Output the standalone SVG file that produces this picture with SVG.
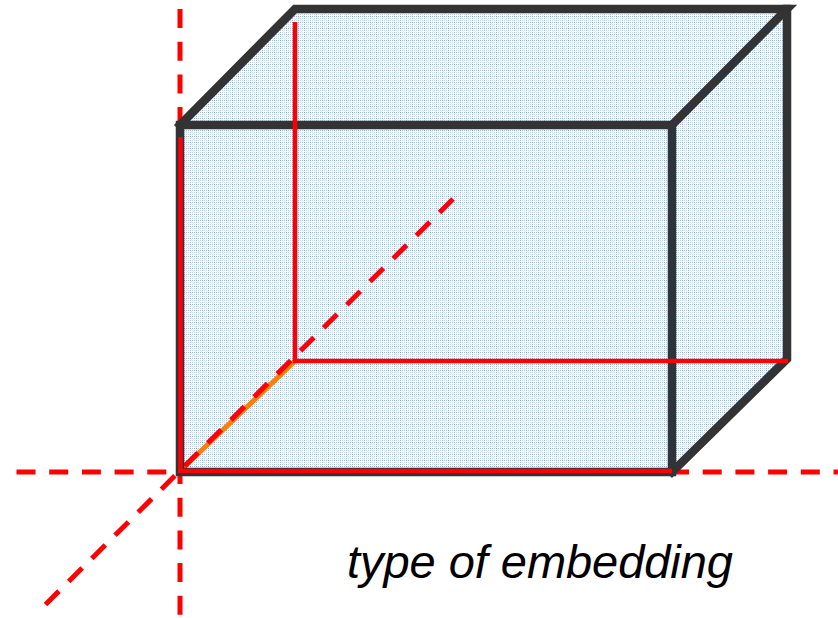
<svg xmlns="http://www.w3.org/2000/svg" width="838" height="618" viewBox="0 0 838 618">
  <defs>
    <pattern id="dots" x="0" y="0" width="6" height="6" patternUnits="userSpaceOnUse">
      <rect width="6" height="6" fill="#fbfdff"/>
      <rect x="0" y="0" width="1" height="1" fill="#c2d9ef"/>
      <rect x="2" y="0" width="1" height="1" fill="#c2d9ef"/>
      <rect x="4" y="0" width="1" height="1" fill="#9bc0e4"/>
      <rect x="0" y="2" width="1" height="1" fill="#c2d9ef"/>
      <rect x="2" y="2" width="1" height="1" fill="#c2d9ef"/>
      <rect x="4" y="2" width="1" height="1" fill="#9bc0e4"/>
      <rect x="0" y="4" width="1" height="1" fill="#9bc0e4"/>
      <rect x="2" y="4" width="1" height="1" fill="#9bc0e4"/>
      <rect x="4" y="4" width="1" height="1" fill="#78a9d8"/>
      <rect x="1" y="1" width="1" height="1" fill="#e6eff8"/>
      <rect x="3" y="3" width="1" height="1" fill="#e6eff8"/>
      <rect x="5" y="5" width="1" height="1" fill="#e6eff8"/>
    </pattern>
  </defs>
  <style>
    .edge { fill: none; stroke: #333333; stroke-width: 8.5; stroke-linejoin: miter; stroke-linecap: square; }
    .hid { fill: none; stroke: #ff0000; stroke-width: 4.5; }
    .axis { fill: none; stroke: #ff0000; stroke-width: 5; stroke-dasharray: 19 13.7; }
    .label { font-family: "Liberation Sans", Arial, sans-serif; font-style: italic; font-size: 47px; fill: #000000; }
  </style>

  <g id="box-fill">
    <polygon points="180,125 295,9 787,9 787,359 672,472 180,472" fill="url(#dots)"/>
  </g>

  <g id="axes">
    <line x1="180" y1="471" x2="295" y2="361" stroke="#ff8000" stroke-width="5"/>
    <line class="axis" x1="453" y1="199" x2="36" y2="614"/>
    <line class="axis" x1="180" y1="9" x2="180" y2="125"/>
    <line class="axis" x1="180" y1="465" x2="180" y2="618"/>
    <line class="axis" x1="16.5" y1="472" x2="180" y2="472"/>
    <line class="axis" x1="670" y1="472" x2="838" y2="472"/>
  </g>

  <g id="box-edges">
    <rect class="edge" x="180" y="125" width="492" height="347"/>
    <polyline class="edge" points="180,125 295,9 787,9 672,125"/>
    <polyline class="edge" points="787,9 787,359 672,472"/>
  </g>

  <g id="red-edges">
    <line class="hid" x1="295" y1="22" x2="295" y2="361"/>
    <line class="hid" x1="293" y1="361" x2="788" y2="361"/>
    <line class="hid" x1="180.5" y1="137" x2="180.5" y2="473"/>
    <line class="hid" x1="178" y1="471" x2="672" y2="471"/>
  </g>

  <g id="caption">
    <text class="label" x="347" y="578" textLength="386" lengthAdjust="spacing">type of embedding</text>
  </g>
</svg>
